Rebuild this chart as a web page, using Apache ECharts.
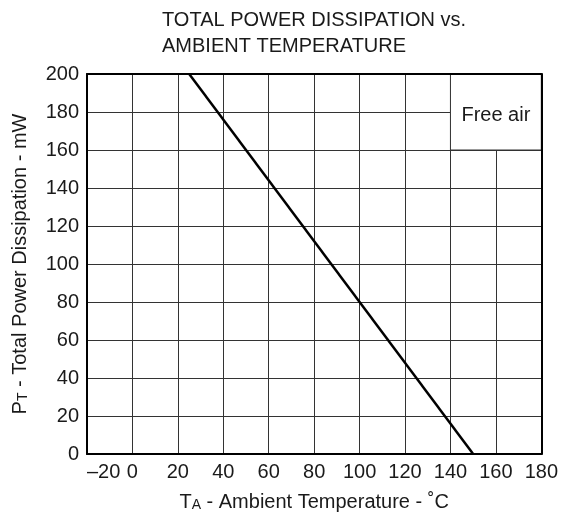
<!DOCTYPE html>
<html>
<head>
<meta charset="utf-8">
<script src="https://cdn.jsdelivr.net/npm/echarts@6/dist/echarts.min.js"></script>
<style>html,body{margin:0;padding:0;background:#fff;}#c{width:561px;height:519px;}</style>
</head>
<body>
<div id="c"></div>
<script>
var titleLines = ['TOTAL POWER DISSIPATION vs.', 'AMBIENT TEMPERATURE'];
var temperature = [25, 150];
var power = [200, 0];
var xRange = [-20, 180, 20];
var yRange = [0, 200, 20];
var noteBox = { label: 'Free air', from: [140, 160], to: [180, 200] };

var FONT = 'Liberation Sans, Arial, sans-serif';
var TXT = '#1a1a1a';
var chart = echarts.init(document.getElementById('c'));
var pts = temperature.map(function (t, i) { return [t, power[i]]; });

chart.setOption({
  animation: false,
  backgroundColor: '#fff',
  title: {
    text: titleLines.join('\n'),
    left: 157, top: 2,
    textStyle: { fontFamily: FONT, fontSize: 20, fontWeight: 'normal', color: TXT, lineHeight: 26 }
  },
  grid: { left: 87, right: 18, top: 74, bottom: 65, containLabel: false },
  xAxis: [{
    type: 'value', min: xRange[0], max: xRange[1], interval: xRange[2],
    name: '{m|T}{s|A}{m| - Ambient Temperature - ˚C}',
    nameLocation: 'middle', nameGap: 36,
    nameTextStyle: { rich: {
      m: { fontFamily: FONT, fontSize: 20, color: TXT, verticalAlign: 'bottom', lineHeight: 22 },
      s: { fontFamily: FONT, fontSize: 14, color: TXT, verticalAlign: 'bottom', lineHeight: 22 }
    } },
    axisLine: { show: true, onZero: false, lineStyle: { color: '#000', width: 2 } },
    axisTick: { show: false },
    axisLabel: { fontFamily: FONT, fontSize: 20, color: TXT, margin: 8, alignMinLabel: 'left',
      formatter: function (v) { return v < 0 ? '\u2013' + Math.abs(v) : String(v); } },
    splitLine: { show: true, lineStyle: { color: '#333', width: 1 } },
    z: 1
  }, {
    type: 'value', position: 'top', min: xRange[0], max: xRange[1], interval: xRange[2],
    axisLine: { show: true, onZero: false, lineStyle: { color: '#000', width: 2 } },
    axisTick: { show: false }, axisLabel: { show: false }, splitLine: { show: false },
    z: 10
  }],
  yAxis: [{
    type: 'value', min: yRange[0], max: yRange[1], interval: yRange[2],
    name: '{m|P}{s|T}{m| - Total Power Dissipation - mW}',
    nameLocation: 'middle', nameGap: 57,
    nameTextStyle: { rich: {
      m: { fontFamily: FONT, fontSize: 20, color: TXT, verticalAlign: 'bottom', lineHeight: 22 },
      s: { fontFamily: FONT, fontSize: 14, color: TXT, verticalAlign: 'bottom', lineHeight: 22 }
    } },
    axisLine: { show: true, onZero: false, lineStyle: { color: '#000', width: 2 } },
    axisTick: { show: false },
    axisLabel: { fontFamily: FONT, fontSize: 20, color: TXT, margin: 8, padding: [4, 0, 0, 0] },
    splitLine: { show: true, lineStyle: { color: '#333', width: 1 } },
    z: 1
  }, {
    type: 'value', position: 'right', min: yRange[0], max: yRange[1], interval: yRange[2],
    axisLine: { show: true, onZero: false, lineStyle: { color: '#000', width: 2 } },
    axisTick: { show: false }, axisLabel: { show: false }, splitLine: { show: false },
    z: 10
  }],
  series: [{
    type: 'line',
    data: pts,
    symbol: 'none',
    lineStyle: { color: '#000', width: 2.5 },
    z: 3,
    markArea: {
      silent: true,
      itemStyle: { color: '#fff', borderColor: '#333', borderWidth: 1, opacity: 1 },
      label: { show: true, position: 'inside', fontFamily: FONT, fontSize: 20, color: TXT, offset: [0, 3] },
      data: [[
        { name: noteBox.label, coord: noteBox.from },
        { coord: noteBox.to }
      ]]
    }
  }]
});
</script>
</body>
</html>
